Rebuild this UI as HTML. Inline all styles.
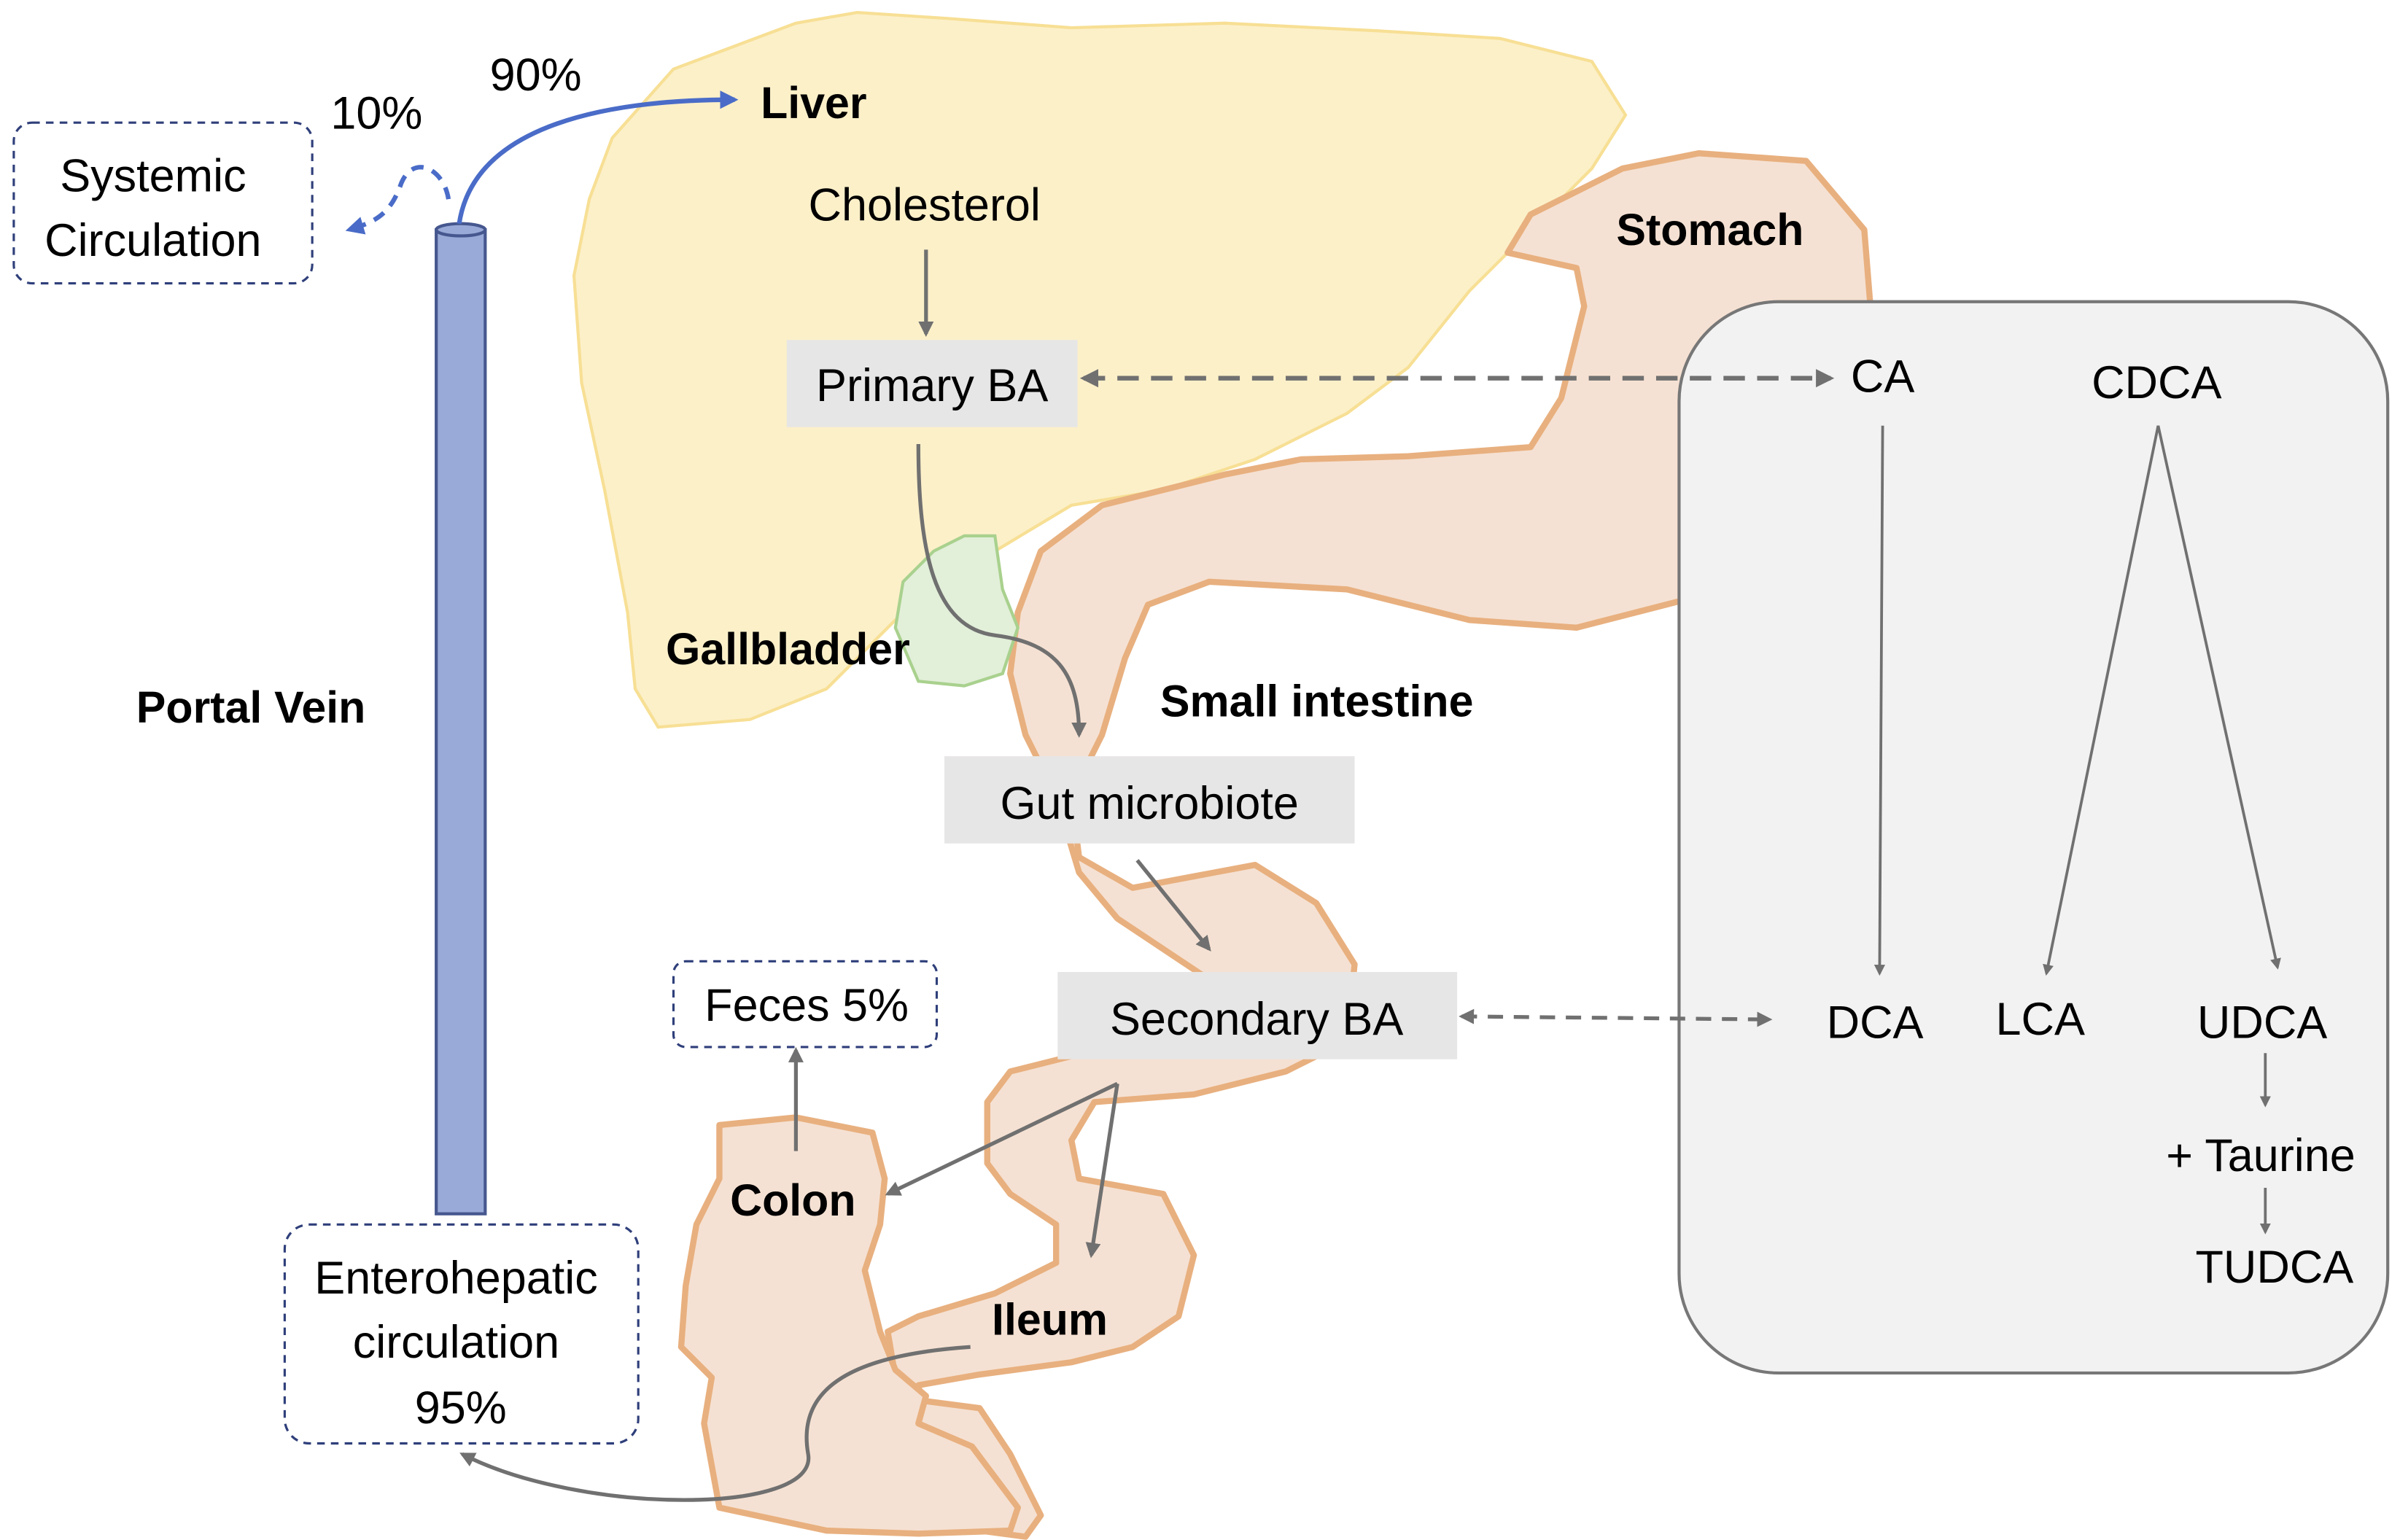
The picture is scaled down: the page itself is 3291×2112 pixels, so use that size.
<!DOCTYPE html>
<html><head><meta charset="utf-8"><style>html,body{margin:0;padding:0;background:#fff}svg{display:block}text{font-family:"Liberation Sans",sans-serif}</style></head>
<body>
<svg width="3291" height="2112" viewBox="0 0 1568 1006" xmlns="http://www.w3.org/2000/svg">
<defs>
<marker id="ag" viewBox="0 0 10 10" refX="8" refY="5" markerWidth="4" markerHeight="4" orient="auto-start-reverse"><path d="M0,0L10,5L0,10z" fill="#707070"/></marker>
<marker id="ab" viewBox="0 0 10 10" refX="8" refY="5" markerWidth="4" markerHeight="4" orient="auto-start-reverse"><path d="M0,0L10,5L0,10z" fill="#4a6cc8"/></marker>
</defs>
<!-- Liver -->
<path d="M385,130 L400,90 L440,45 L480,30 L520,15 L560,8 L620,12 L700,18 L800,15 L900,20 L980,25 L1040,40 L1062,75 L1040,110 L1000,150 L960,190 L920,240 L880,270 L820,300 L760,320 L700,330 L650,360 L610,380 L570,420 L540,450 L490,470 L430,475 L415,450 L410,400 L395,320 L380,250 L375,180 Z" fill="#fcf0c9" stroke="#f7df94" stroke-width="2"/>
<!-- Stomach + intestine -->
<path d="M985,165 L1000,140 L1060,110 L1110,100 L1180,105 L1218,150 L1222,200 L1222,380 L1100,392 L1030,410 L960,405 L880,385 L790,380 L750,395 L735,430 L720,480 L700,520 L705,560 L740,580 L820,565 L860,590 L885,630 L880,680 L840,700 L780,715 L715,720 L700,745 L705,770 L760,780 L780,820 L770,860 L740,880 L700,890 L640,898 L600,905 L602,915 L640,920 L660,950 L680,990 L670,1004 L640,1000 L610,970 L600,940 L585,900 L580,870 L600,860 L650,845 L690,825 L690,800 L660,780 L645,760 L645,720 L660,700 L700,690 L740,680 L790,640 L730,600 L705,570 L690,520 L670,480 L660,440 L665,400 L680,360 L720,330 L760,320 L800,310 L850,300 L920,298 L1000,292 L1020,260 L1035,200 L1030,175 Z" fill="#f5e1d3" stroke="#e8b07f" stroke-width="4" stroke-linejoin="round"/>
<!-- Colon -->
<path d="M470,735 L520,730 L570,740 L578,770 L575,800 L565,830 L575,870 L585,895 L605,912 L600,930 L635,945 L665,985 L660,1000 L600,1002 L540,1000 L470,985 L460,930 L465,900 L445,880 L448,840 L455,800 L470,770 Z" fill="#f5e1d3" stroke="#e8b07f" stroke-width="4" stroke-linejoin="round"/>
<!-- Gallbladder -->
<path d="M590,380 L610,360 L630,350 L650,350 L655,385 L665,410 L655,440 L630,448 L600,445 L585,410 Z" fill="#e2efd9" stroke="#a9d18e" stroke-width="2"/>
<!-- Right box -->
<rect x="1097" y="197" width="463" height="700" rx="65" fill="#f2f2f2" stroke="#777" stroke-width="2"/>
<!-- Portal vein -->
<rect x="285" y="150" width="32" height="643" fill="#99aad8" stroke="#46578f" stroke-width="2"/>
<ellipse cx="301" cy="150" rx="16" ry="4" fill="#99aad8" stroke="#46578f" stroke-width="2"/>
<!-- Dashed boxes -->
<rect x="9" y="80" width="195" height="105" rx="12" fill="#fff" stroke="#2f3f7a" stroke-width="1.5" stroke-dasharray="5,4"/>
<rect x="440" y="628" width="172" height="56" rx="8" fill="#fff" stroke="#2f3f7a" stroke-width="1.5" stroke-dasharray="5,4"/>
<rect x="186" y="800" width="231" height="143" rx="16" fill="#fff" stroke="#2f3f7a" stroke-width="1.5" stroke-dasharray="5,4"/>
<!-- Grey label boxes -->
<rect x="514" y="222" width="190" height="57" fill="#e7e6e6"/>
<rect x="617" y="494" width="268" height="57" fill="#e7e6e6"/>
<rect x="691" y="635" width="261" height="57" fill="#e7e6e6"/>
<!-- blue arrows -->
<path d="M300,146 C310,80 400,65 480,65" fill="none" stroke="#4a6cc8" stroke-width="3" marker-end="url(#ab)"/>
<path d="M293,130 C290,110 270,100 262,120 C255,140 245,145 228,150" fill="none" stroke="#4a6cc8" stroke-width="3" stroke-dasharray="8,6" marker-end="url(#ab)"/>
<!-- grey arrows -->
<g fill="none" stroke="#707070" stroke-width="2.5">
<path d="M605,163 L605,218" marker-end="url(#ag)"/>
<path d="M708,247 L1196,247" stroke-width="3" stroke-dasharray="14,8" marker-start="url(#ag)" marker-end="url(#ag)"/>
<path d="M600,290 C600,360 610,410 650,415 C690,420 705,440 705,480" marker-end="url(#ag)"/>
<path d="M743,562 L790,620" marker-end="url(#ag)"/>
<path d="M955,664 L1156,666" stroke-dasharray="10,7" marker-start="url(#ag)" marker-end="url(#ag)"/>
<path d="M730,708 L580,780" marker-end="url(#ag)"/>
<path d="M730,708 L713,820" marker-end="url(#ag)"/>
<path d="M520,752 L520,686" marker-end="url(#ag)"/>
<path d="M634,880 C560,885 520,905 528,950 C535,990 380,990 302,950" marker-end="url(#ag)"/>
</g>
<g fill="none" stroke="#707070" stroke-width="1.8">
<path d="M1230,278 L1228,636" marker-end="url(#ag)"/>
<path d="M1410,278 L1337,636" marker-end="url(#ag)"/>
<path d="M1410,278 L1488,632" marker-end="url(#ag)"/>
<path d="M1480,688 L1480,722" marker-end="url(#ag)"/>
<path d="M1480,776 L1480,805" marker-end="url(#ag)"/>
</g>
<!-- Text -->
<g font-size="30" fill="#000">
<text x="100" y="125" text-anchor="middle">Systemic</text>
<text x="100" y="167" text-anchor="middle">Circulation</text>
<text x="246" y="84" text-anchor="middle">10%</text>
<text x="350" y="59" text-anchor="middle">90%</text>
<text x="604" y="144" text-anchor="middle">Cholesterol</text>
<text x="609" y="262" text-anchor="middle">Primary BA</text>
<text x="751" y="535" text-anchor="middle">Gut microbiote</text>
<text x="821" y="676" text-anchor="middle">Secondary BA</text>
<text x="527" y="667" text-anchor="middle">Feces 5%</text>
<text x="298" y="845" text-anchor="middle">Enterohepatic</text>
<text x="298" y="887" text-anchor="middle">circulation</text>
<text x="301" y="930" text-anchor="middle">95%</text>
<text x="1230" y="256" text-anchor="middle">CA</text>
<text x="1409" y="260" text-anchor="middle">CDCA</text>
<text x="1225" y="678" text-anchor="middle">DCA</text>
<text x="1333" y="676" text-anchor="middle">LCA</text>
<text x="1478" y="678" text-anchor="middle">UDCA</text>
<text x="1477" y="765" text-anchor="middle">+ Taurine</text>
<text x="1486" y="838" text-anchor="middle">TUDCA</text>
</g>
<g font-size="29" font-weight="bold" fill="#000">
<text x="497" y="77">Liver</text>
<text x="1056" y="160">Stomach</text>
<text x="435" y="434">Gallbladder</text>
<text x="758" y="468">Small intestine</text>
<text x="89" y="472">Portal Vein</text>
<text x="477" y="794">Colon</text>
<text x="648" y="872">Ileum</text>
</g>
</svg>
</body></html>
